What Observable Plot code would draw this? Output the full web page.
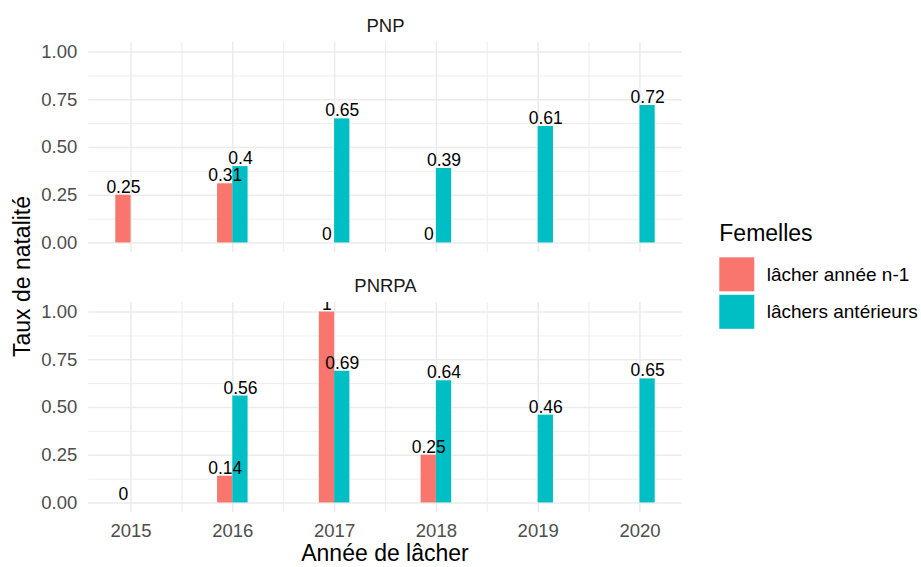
<!DOCTYPE html>
<html>
<head>
<meta charset="utf-8">
<script src="https://cdn.jsdelivr.net/npm/d3@7"></script>
<script src="https://cdn.jsdelivr.net/npm/@observablehq/plot@0.6"></script>
<style>
  html, body { margin: 0; padding: 0; background: #fff; }
  #chart { position: relative; width: 921px; height: 567px; font-family: "Liberation Sans", Arial, sans-serif; }
</style>
</head>
<body>
<div id="chart"></div>
<script>
// ---- data ----
const years = [2015, 2016, 2017, 2018, 2019, 2020];
const parks = ["PNP", "PNRPA"];
const groups = ["lâcher année n-1", "lâchers antérieurs"];
const pnpN1 = [0.25, 0.31, 0, 0, null, null];
const pnpAnt = [null, 0.4, 0.65, 0.39, 0.61, 0.72];
const pnrpaN1 = [0, 0.14, 1, 0.25, null, null];
const pnrpaAnt = [null, 0.56, 0.69, 0.64, 0.46, 0.65];
const yTicks = [0, 0.25, 0.5, 0.75, 1];
const yMinor = [0.125, 0.375, 0.625, 0.875];
const xMinor = [2015.5, 2016.5, 2017.5, 2018.5, 2019.5];
const colors = ["#F8766D", "#00BFC4"];

const series = {
  "PNP": [pnpN1, pnpAnt],
  "PNRPA": [pnrpaN1, pnrpaAnt]
};

// build table
const barW = 0.15;
const rows = [];
for (const park of parks) {
  series[park].forEach((vals, gi) => {
    vals.forEach((v, i) => {
      if (v == null) return;
      const yr = years[i];
      const x1 = gi === 0 ? yr - barW : yr;
      rows.push({park, group: groups[gi], year: yr, value: v, x1, x2: x1 + barW});
    });
  });
}

const W = 921, H = 567;
const mL = 88.3, mR = W - 681.7, mT = 41.5, mB = H - 511.5;
const gap = 50, facetH = 210;
const fontFam = '"Liberation Sans", Arial, sans-serif';

const plot = Plot.plot({
  width: W,
  height: H,
  marginLeft: mL,
  marginRight: mR,
  marginTop: mT,
  marginBottom: mB,
  style: {fontFamily: fontFam, fontSize: "18.5px", background: "#fff", overflow: "visible"},
  x: {domain: [2014.585, 2020.415]},
  y: {domain: [-0.05, 1.05]},
  fy: {domain: parks, paddingInner: gap / (facetH + gap), paddingOuter: 0, axis: null},
  color: {domain: groups, range: colors},
  marks: [
    Plot.gridY(yMinor, {stroke: "#EBEBEB", strokeOpacity: 1, strokeWidth: 0.9}),
    Plot.gridX(xMinor, {stroke: "#EBEBEB", strokeOpacity: 1, strokeWidth: 0.9}),
    Plot.gridY(yTicks, {stroke: "#EBEBEB", strokeOpacity: 1, strokeWidth: 1.5}),
    Plot.gridX(years, {stroke: "#EBEBEB", strokeOpacity: 1, strokeWidth: 1.5}),
    Plot.axisY(yTicks, {tickSize: 0, tickPadding: 11.5, tickFormat: d3.format(".2f"), fontSize: 18.5, color: "#4D4D4D", label: null}),
    Plot.axisX(years, {tickSize: 0, tickPadding: 11, tickFormat: d => String(d), fontSize: 18.5, color: "#4D4D4D", label: null}),
    Plot.rectY(rows, {x1: "x1", x2: "x2", y1: 0, y2: "value", fy: "park", fill: "group", inset: 0}),
    Plot.text(rows, {
      x: d => (d.x1 + d.x2) / 2, y: "value", fy: "park",
      text: d => String(d.value),
      lineAnchor: "bottom", dy: -2.5, fontSize: 17.5, fill: "#000", clip: true
    }),
    Plot.text(parks, {fy: d => d, text: d => d, frameAnchor: "top", lineAnchor: "bottom", dy: -11, fontSize: 18.5, fill: "#1A1A1A"})
  ]
});

document.getElementById("chart").appendChild(plot);

// axis titles & legend
const svg = d3.select(plot);
const plotCx = mL + (W - mL - mR) / 2;
const plotCy = mT + (H - mT - mB) / 2;
svg.append("text")
  .attr("transform", `translate(29.5,${plotCy}) rotate(-90)`)
  .attr("text-anchor", "middle")
  .attr("font-size", 23)
  .attr("fill", "#000")
  .text("Taux de natalité");
svg.append("text")
  .attr("x", plotCx)
  .attr("y", H - 6)
  .attr("text-anchor", "middle")
  .attr("font-size", 23)
  .attr("fill", "#000")
  .text("Année de lâcher");

const color = plot.scale("color");
const lg = svg.append("g").attr("transform", "translate(719.3,0)").attr("text-anchor", "start");
lg.append("text").attr("x", 0).attr("y", 240.7).attr("font-size", 23).attr("fill", "#000").text("Femelles");
groups.forEach((g, i) => {
  const top = 257.3 + i * 37.5;
  lg.append("rect").attr("x", 0).attr("y", top).attr("width", 35).attr("height", 34).attr("fill", color.apply(g));
  lg.append("text").attr("x", 47.4).attr("y", top + 17).attr("dy", "0.35em")
    .attr("font-size", 19).attr("fill", "#000").text(g);
});
</script>
</body>
</html>
